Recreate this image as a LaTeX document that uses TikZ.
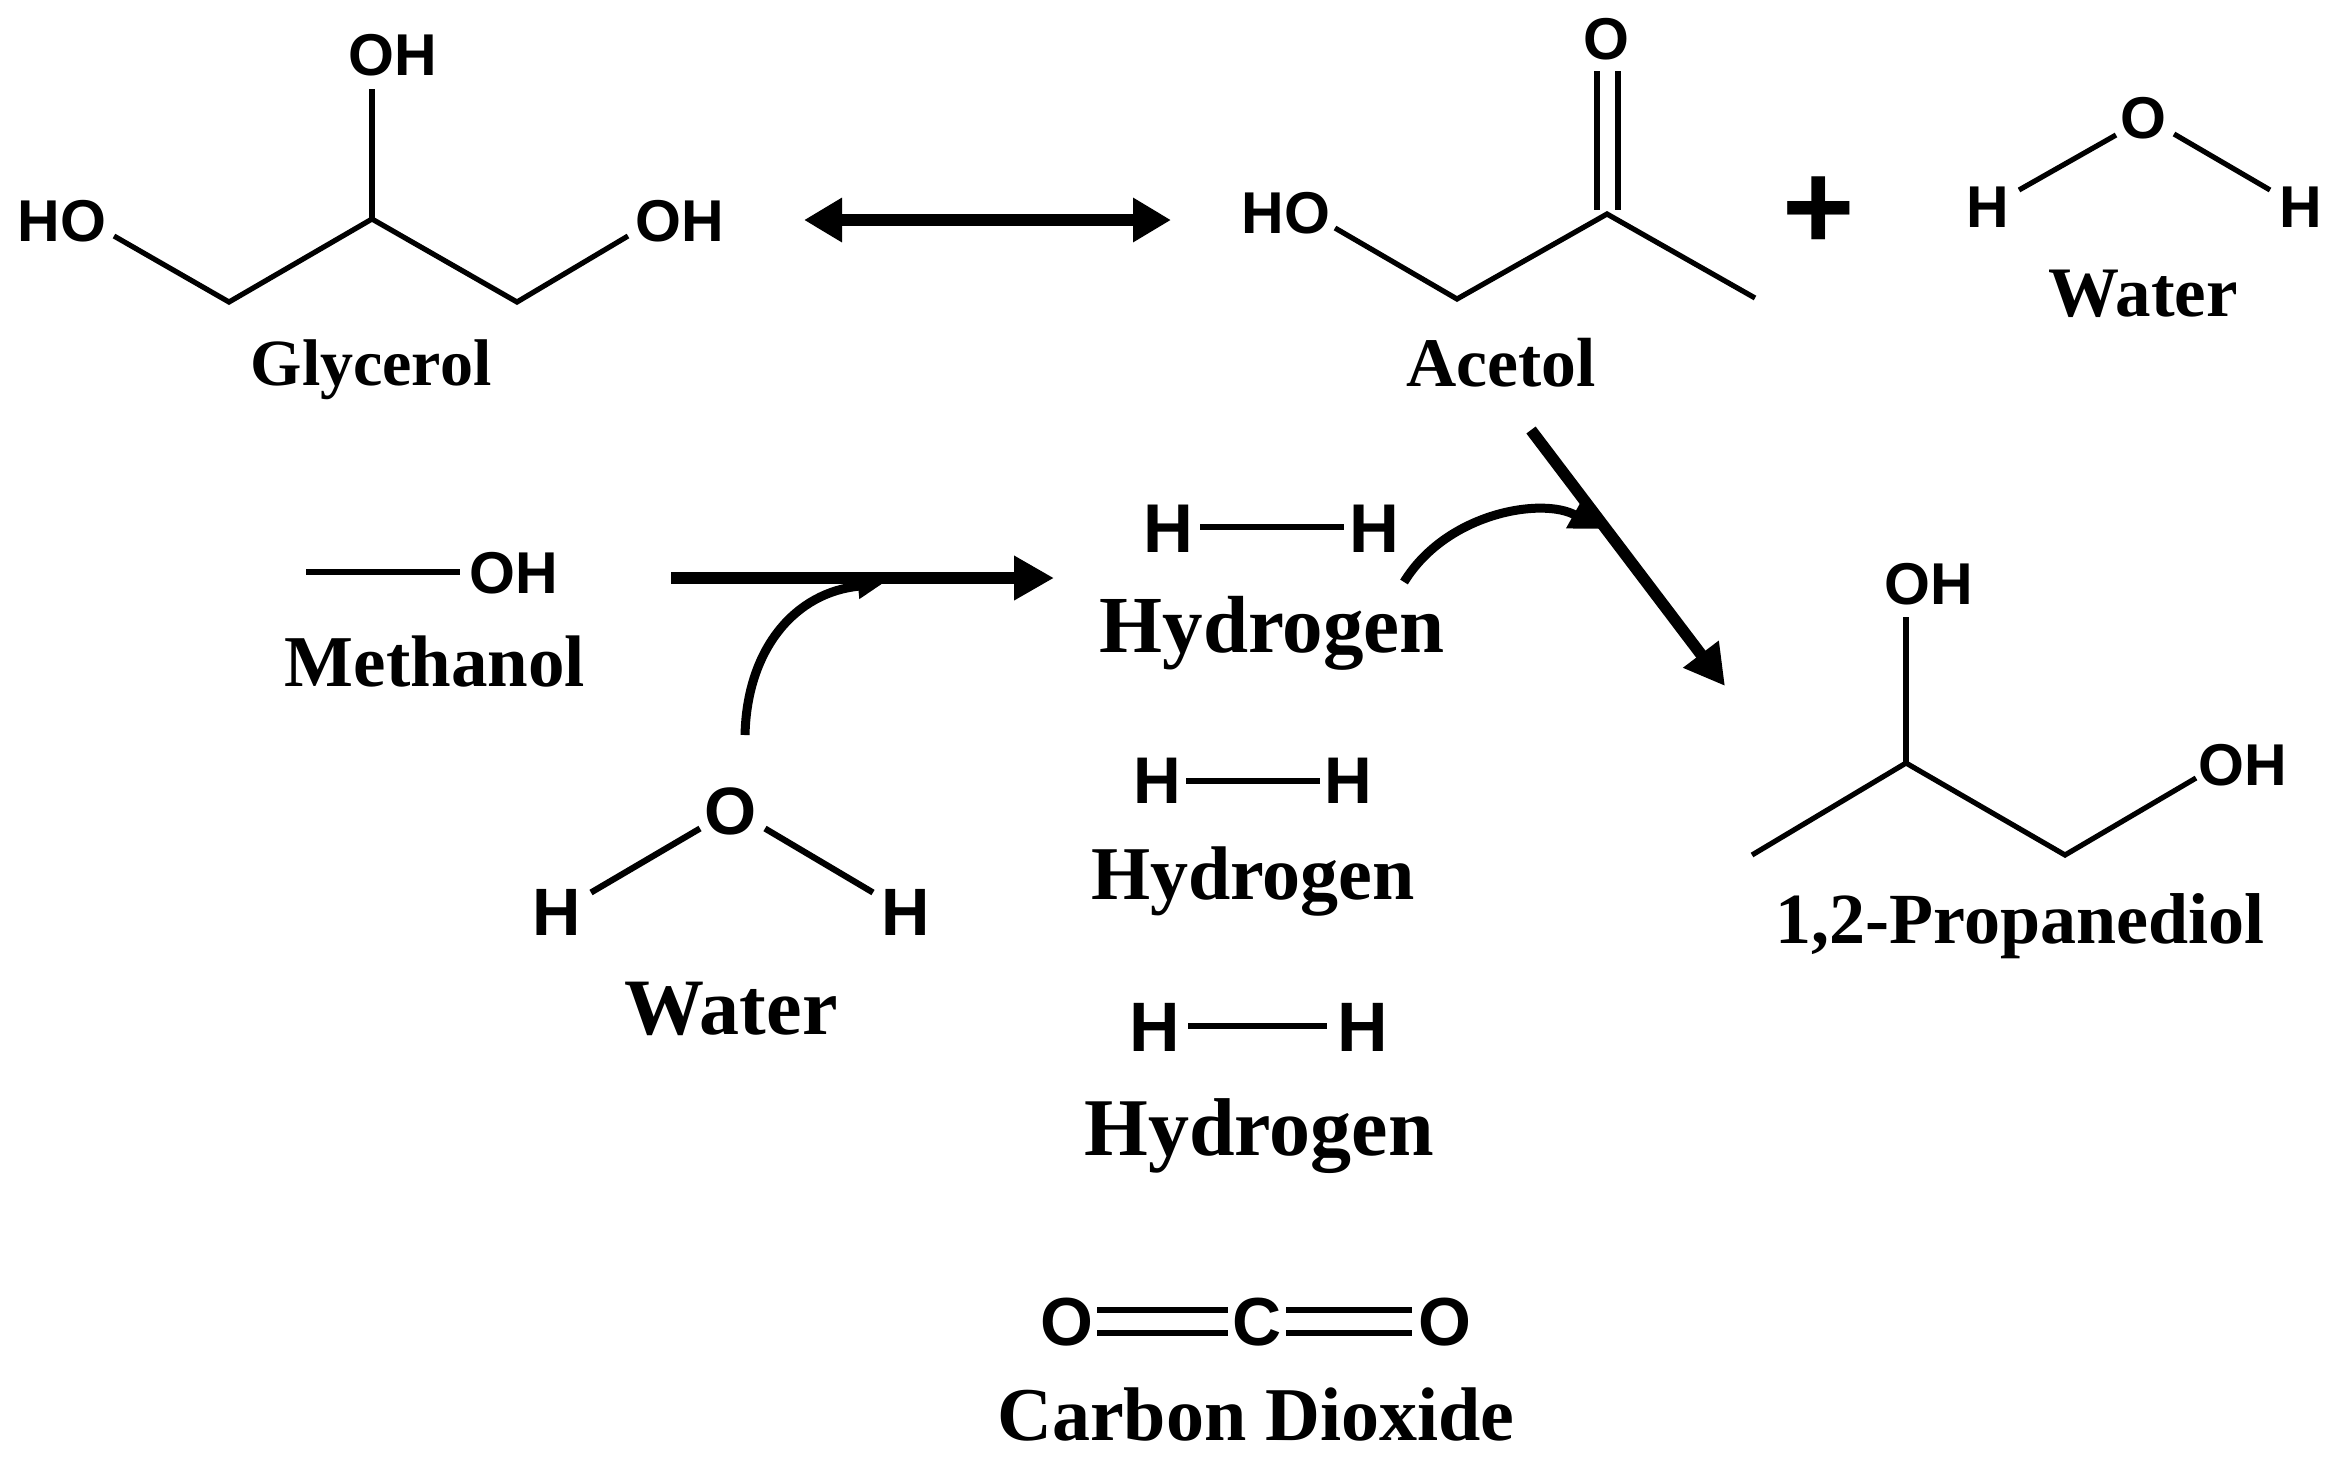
\documentclass[tikz,border=0pt]{standalone}
\usepackage{fontspec}
\setmainfont{Liberation Serif}
\setsansfont{Liberation Sans}
\usetikzlibrary{arrows.meta}
\tikzset{
  lab/.style={anchor=base,inner sep=0pt,font=\rmfamily\bfseries\fontsize{#1}{#1}\selectfont},
  atom/.style={anchor=center,inner sep=0pt,font=\sffamily\bfseries\fontsize{#1}{#1}\selectfont},
  bond/.style={line width=2.6pt,line cap=butt,line join=miter},
  hbond/.style={line width=3.1pt},
  bigarrow/.style={line width=5.8pt,-{Triangle[length=20pt,width=21pt]}},
  bothways/.style={line width=5.6pt,{Triangle[length=19pt,width=21pt]}-{Triangle[length=19pt,width=21pt]}},
  curvearrow/.style={line width=4.5pt,-{Triangle[length=#1,width=#1]}},
}
\begin{document}
\begin{tikzpicture}[x=0.5pt,y=-0.5pt]
\useasboundingbox (0,0) rectangle (2332,1463);
% Glycerol
\node[atom=29.5pt] (gOHt) at (393,55) {OH};
\node[atom=29.5pt] (gHO) at (62,221) {HO};
\node[atom=29.5pt] (gOHr) at (680,221) {OH};
\node[lab=33pt] (gLabel) at (371,385) {Glycerol};
\coordinate (gTop) at (372,89);
\coordinate (gC) at (372,219);
\coordinate (gL) at (229,302);
\coordinate (gR) at (517,302);
\coordinate (gLe) at (114,236);
\coordinate (gRe) at (628,236);
\draw[bond] (gLe) -- (gL) -- (gC) -- (gR) -- (gRe);
\draw[bond] (gC) -- (gTop);
% double arrow
\coordinate (dA) at (804,220);
\coordinate (dB) at (1171,220);
\draw[bothways] (dA) -- (dB);
% Acetol
\node[atom=29.5pt] (aHO) at (1286,213) {HO};
\node[atom=29.5pt] (aO) at (1606,39) {O};
\node[lab=34.8pt] (aLabel) at (1501,386) {Acetol};
\coordinate (aC) at (1607,214);
\coordinate (aL) at (1457,299);
\coordinate (aLe) at (1335,228);
\coordinate (aRe) at (1755,298);
\draw[bond] (aLe) -- (aL) -- (aC) -- (aRe);
\coordinate (aD1a) at (1597,71); \coordinate (aD1b) at (1597,210);
\coordinate (aD2a) at (1618,71); \coordinate (aD2b) at (1618,210);
\draw[bond] (aD1a) -- (aD1b);
\draw[bond] (aD2a) -- (aD2b);
% plus
\node[atom=62pt] (plus) at (1819,213) {+};
% Water right
\node[atom=29.5pt] (wO) at (2143,118) {O};
\node[atom=29.5pt] (wHl) at (1988,207.5) {H};
\node[atom=29.5pt] (wHr) at (2301,207.5) {H};
\node[lab=35.5pt] (wLabel) at (2143,316) {Water};
\coordinate (wA) at (2019,190); \coordinate (wB) at (2116,135);
\coordinate (wC) at (2174,134); \coordinate (wD) at (2270,190);
\draw[bond] (wA) -- (wB);
\draw[bond] (wC) -- (wD);
% Methanol
\node[atom=29.5pt] (mOH) at (514,573) {OH};
\node[lab=36.5pt] (mLabel) at (435,686) {Methanol};
\coordinate (mA) at (306,572); \coordinate (mB) at (460,572);
\draw[bond] (mA) -- (mB);
% main arrow
\coordinate (maA) at (671,578); \coordinate (maB) at (1054,578);
\draw[bigarrow] (maA) -- (maB);
% curved arrow from water
\coordinate (c1A) at (745,735); \coordinate (c1B) at (882,584);
\draw[curvearrow=12pt] (c1A) .. controls (747,648) and (796,592) .. (c1B);
% Hydrogen 1
\node[atom=34.5pt] (h1a) at (1168,529) {H};
\node[atom=34.5pt] (h1b) at (1374,529) {H};
\node[lab=40.5pt] (h1Label) at (1272,652) {Hydrogen};
\coordinate (h1c) at (1200,527); \coordinate (h1d) at (1344,527);
\draw[hbond] (h1c) -- (h1d);
% curved arrow from hydrogen
\coordinate (c2A) at (1404,582); \coordinate (c2B) at (1600,529);
\draw[curvearrow=15pt] (c2A) .. controls (1447,512) and (1543,497) .. (c2B);
% diagonal arrow
\coordinate (dgA) at (1531,430); \coordinate (dgB) at (1725,686);
\draw[bigarrow] (dgA) -- (dgB);
% Propanediol
\node[atom=29.5pt] (pOHt) at (1929,584) {OH};
\node[atom=29.5pt] (pOHr) at (2243,765) {OH};
\node[lab=36pt] (pLabel) at (2020,943) {1,2-Propanediol};
\coordinate (pTop) at (1906,617);
\coordinate (pC) at (1906,763);
\coordinate (pL) at (1752,855);
\coordinate (pR) at (2065,855);
\coordinate (pRe) at (2196,778);
\draw[bond] (pL) -- (pC) -- (pR) -- (pRe);
\draw[bond] (pC) -- (pTop);
% Water left
\node[atom=33.5pt] (xO) at (731,811) {O};
\node[atom=33.5pt] (xHl) at (557,912) {H};
\node[atom=33.5pt] (xHr) at (906,912) {H};
\node[lab=40pt] (xLabel) at (731,1034) {Water};
\coordinate (xA) at (591,892.5); \coordinate (xB) at (700,828.5);
\coordinate (xC) at (765,828.5); \coordinate (xD) at (873,892.5);
\draw[hbond] (xA) -- (xB);
\draw[hbond] (xC) -- (xD);
% Hydrogen 2
\node[atom=33pt] (h2a) at (1157,781) {H};
\node[atom=33pt] (h2b) at (1348,781) {H};
\node[lab=38pt] (h2Label) at (1253,899) {Hydrogen};
\coordinate (h2c) at (1186,781); \coordinate (h2d) at (1320,781);
\draw[hbond] (h2c) -- (h2d);
% Hydrogen 3
\node[atom=35pt] (h3a) at (1155,1027) {H};
\node[atom=35pt] (h3b) at (1363,1027) {H};
\node[lab=41pt] (h3Label) at (1259,1155) {Hydrogen};
\coordinate (h3c) at (1188,1026); \coordinate (h3d) at (1327,1026);
\draw[hbond] (h3c) -- (h3d);
% Carbon dioxide
\node[atom=34pt] (cOl) at (1067,1322) {O};
\node[atom=34pt] (cC) at (1257,1322) {C};
\node[atom=34pt] (cOr) at (1445,1322) {O};
\node[lab=38pt] (cLabel) at (1256,1440) {Carbon Dioxide};
\coordinate (c1) at (1097,1310); \coordinate (c2) at (1228,1310);
\coordinate (c3) at (1097,1333); \coordinate (c4) at (1228,1333);
\coordinate (c5) at (1286,1310); \coordinate (c6) at (1412,1310);
\coordinate (c7) at (1286,1333); \coordinate (c8) at (1412,1333);
\draw[hbond] (c1) -- (c2);
\draw[hbond] (c3) -- (c4);
\draw[hbond] (c5) -- (c6);
\draw[hbond] (c7) -- (c8);
\end{tikzpicture}
\end{document}
